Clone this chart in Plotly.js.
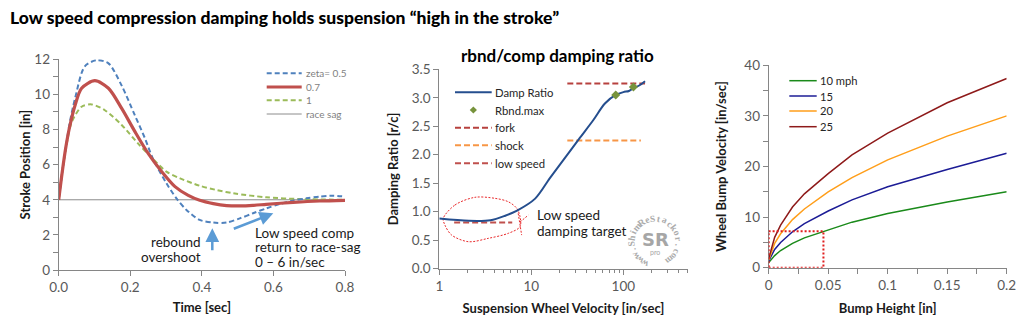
<!DOCTYPE html>
<html><head><meta charset="utf-8">
<script src="https://cdn.plot.ly/plotly-3.0.1.min.js"></script>
<style>html,body{margin:0;padding:0;background:#fff}#chart{width:1024px;height:328px}</style>
</head><body><div id="chart"></div>
<script>
// ---------- Panel 1 : stroke position vs time ----------
const tZeta05 = [0,0.01,0.02,0.03,0.046,0.073,0.106,0.139,0.176,0.213,0.241,0.262,0.301,0.329,0.357,0.394,0.432,0.469,0.506,0.543,0.58,0.618,0.655,0.692,0.729,0.767,0.8];
const posZeta05 = [4,5.6,7.0,8.3,9.8,11.6,11.95,11.77,10.5,8.8,7.5,6.4,4.94,4.08,3.42,2.85,2.70,2.70,2.94,3.23,3.51,3.76,3.95,4.08,4.18,4.23,4.18];
const tZeta07 = [0,0.01,0.02,0.03,0.046,0.064,0.101,0.139,0.176,0.213,0.25,0.288,0.325,0.362,0.394,0.432,0.469,0.506,0.543,0.58,0.655,0.729,0.8];
const posZeta07 = [4,5.6,7.0,8.1,9.4,10.35,10.78,10.35,9.2,7.88,6.64,5.6,4.75,4.25,3.97,3.78,3.67,3.65,3.68,3.74,3.85,3.93,3.97];
const tZeta1 = [0,0.01,0.02,0.036,0.064,0.092,0.129,0.176,0.222,0.26,0.301,0.339,0.394,0.44,0.488,0.58,0.674,0.8];
const posZeta1 = [4,5.6,6.9,8.4,9.3,9.43,9.1,8.26,7.2,6.4,5.6,5.22,4.8,4.56,4.37,4.14,4.04,4.0];
const tSag = [0,0.8];
const posSag = [4,4];
const p1Names = ['zeta= 0.5','0.7','1','race sag'];

// ---------- Panel 2 : rebound / compression damping ratio ----------
const velRatio = [1,2.1,3.6,5.2,7,11,15.9,24.3,33.8,47.2,63,82.6,100,115,128.5,150,172];
const dampRatio = [0.88,0.84,0.85,0.93,1.02,1.23,1.59,1.99,2.30,2.61,2.9,3.05,3.1,3.12,3.17,3.22,3.29];
const velRbndMax = [82.6,128.6];
const rbndMax = [3.05,3.19];
const velFork = [24.6,172];
const ratioFork = [3.25,3.25];
const velShock = [24.6,155];
const ratioShock = [2.25,2.25];
const velLowSpeed = [1.45,6.2];
const ratioLowSpeed = [0.81,0.81];
const loopVel = [1.105,1.48,2.44,4.03,5.62,6.94,7.54,7.54,5.62,3.41,2.07,1.36,1.15,1.105];
const loopRatio = [0.884,1.118,1.253,1.235,1.175,1.06,0.912,0.737,0.621,0.533,0.474,0.591,0.767,0.884];
const tickVel = [7.2,7.85];
const tickRatio = [0.97,0.59];
const tick2Vel = [7.54,9.27];
const tick2Ratio = [0.82,0.94];
const p2Names = ['Damp Ratio','Rbnd.max','fork','shock','low speed'];

// ---------- Panel 3 : wheel bump velocity vs bump height ----------
const bumpHeight = [0,0.001,0.005,0.01,0.02,0.03,0.05,0.07,0.1,0.15,0.2];
const vel10mph = [1.0,1.3,2.4,3.4,4.8,5.9,7.5,9.0,10.7,13.0,15.0];
const vel15mph = [1.2,1.8,3.6,5.0,7.1,8.7,11.2,13.4,16.0,19.4,22.6];
const vel20mph = [1.5,2.2,4.8,6.7,9.5,11.6,15.0,17.8,21.3,26.0,30.0];
const vel25mph = [1.8,2.7,6.0,8.4,12.0,14.6,18.6,22.3,26.6,32.6,37.4];
const p3Names = ['10 mph','15','20','25'];
const boxHeight = [0,0.046];
const boxVel = [0,7.2];

// ---------- helpers ----------
const W = 1024, H = 328;
const px = x => x / W;
const py = y => 1 - y / H;
const FONT = 'Lato, "Open Sans", sans-serif';
const AXC = '#868686';
const TXT = '#595959';

const sZ05 = {color:'#4F81BD', width:2, dash:'5px,3px'};
const sZ07 = {color:'#C0504D', width:3.2};
const sZ1 = {color:'#9BBB59', width:2, dash:'5px,3px'};
const sSag = {color:'#8C8C8C', width:1};
const sDamp = {color:'#254E8E', width:2};
const sFork = {color:'#B7413E', width:2, dash:'6px,3px'};
const sShock = {color:'#F79646', width:2, dash:'6px,3px'};
const sLow = {color:'#C0504D', width:2, dash:'6px,3px'};
const s10 = {color:'#1A8A1A', width:1.5};
const s15 = {color:'#1C1C96', width:1.5};
const s20 = {color:'#FF9E1A', width:1.5};
const s25 = {color:'#8E1A1A', width:1.5};
const loopStyle = {color:'#E8282A', width:1, dash:'2px,1.5px'};

function ln(x, y, xa, ya, line, smooth) {
  const l = Object.assign({}, line);
  if (smooth) { l.shape = 'spline'; l.smoothing = smooth; }
  return {x, y, xaxis:xa, yaxis:ya, type:'scatter', mode:'lines', line:l, hoverinfo:'skip', showlegend:false};
}

const traces = [
  ln(tSag, posSag, 'x', 'y', sSag),
  ln(tZeta1, posZeta1, 'x', 'y', sZ1, 0.8),
  ln(tZeta05, posZeta05, 'x', 'y', sZ05, 0.8),
  ln(tZeta07, posZeta07, 'x', 'y', sZ07, 0.8),
  ln(loopVel, loopRatio, 'x2', 'y2', loopStyle, 0.9),
  ln(tickVel, tickRatio, 'x2', 'y2', loopStyle),
  ln(tick2Vel, tick2Ratio, 'x2', 'y2', loopStyle),
  ln(velLowSpeed, ratioLowSpeed, 'x2', 'y2', sLow),
  ln(velShock, ratioShock, 'x2', 'y2', sShock),
  ln(velFork, ratioFork, 'x2', 'y2', sFork),
  ln(velRatio, dampRatio, 'x2', 'y2', sDamp, 0.9),
  {x: velRbndMax, y: rbndMax, xaxis:'x2', yaxis:'y2', type:'scatter', mode:'markers',
   marker:{symbol:'diamond', size:7, color:'#77933C'}, hoverinfo:'skip', showlegend:false},
  ln(bumpHeight, vel10mph, 'x3', 'y3', s10),
  ln(bumpHeight, vel15mph, 'x3', 'y3', s15),
  ln(bumpHeight, vel20mph, 'x3', 'y3', s20),
  ln(bumpHeight, vel25mph, 'x3', 'y3', s25)
];

const shapes = [];
const annotations = [];

function legend(items, names, rows, x0, x1, tx, size, color) {
  items.forEach((st, i) => {
    const y = rows[i];
    if (st.marker) {
      const c = (x0 + x1) / 2, r = 3.6;
      shapes.push({type:'path', xref:'paper', yref:'paper',
        path:`M ${px(c)},${py(y - r)} L ${px(c + r)},${py(y)} L ${px(c)},${py(y + r)} L ${px(c - r)},${py(y)} Z`,
        fillcolor:st.marker, line:{width:0}});
    } else {
      shapes.push({type:'line', xref:'paper', yref:'paper', x0:px(x0), x1:px(x1), y0:py(y), y1:py(y),
        line:{color:st.color, width:st.width, dash:st.dash || 'solid'}});
    }
    annotations.push({xref:'paper', yref:'paper', x:px(tx), y:py(y), xanchor:'left', yanchor:'middle',
      text:names[i], showarrow:false, font:{family:FONT, size:size, color:color}});
  });
}
legend([sZ05, sZ07, sZ1, sSag], p1Names, [73.3, 87, 100.3, 114], 266.7, 301.7, 303.5, 10, '#7F7F7F');
legend([sDamp, {marker:'#77933C'}, sFork, sShock, sLow], p2Names, [92.3, 110, 127.7, 145.3, 163.3], 455, 491.7, 492.5, 11.3, '#262626');
legend([s10, s15, s20, s25], p3Names, [80.7, 96, 111, 126.7], 789.3, 816.7, 817.5, 11.2, '#262626');

// dotted box in panel 3
shapes.push({type:'rect', xref:'x3', yref:'y3', x0:boxHeight[0], x1:boxHeight[1], y0:boxVel[0], y1:boxVel[1],
  line:{color:'#E01E1E', width:2, dash:'2px,2px'}});

function txt(x, y, s, opts) {
  annotations.push(Object.assign({xref:'paper', yref:'paper', x:px(x), y:py(y), text:s, showarrow:false,
    xanchor:'left', yanchor:'middle', font:{family:FONT, size:13.5, color:'#1a1a1a'}}, opts || {}));
}
// panel 1 notes
txt(203, 241.7, 'rebound', {xanchor:'right'});
txt(203, 257, 'overshoot', {xanchor:'right'});
txt(252.5, 232.5, 'Low speed comp');
txt(252.5, 247, 'return to race-sag');
txt(252.5, 261.5, '0 – 6 in/sec');
// arrows
annotations.push({xref:'paper', yref:'paper', x:px(212.3), y:py(228.3), ax:0, ay:23.5, text:'', showarrow:true,
  arrowhead:2, arrowsize:1.1, arrowwidth:2.5, arrowcolor:'#5B9BD5'});
annotations.push({xref:'paper', yref:'paper', x:px(273.3), y:py(213.3), ax:-41, ay:16, text:'', showarrow:true,
  arrowhead:2, arrowsize:1.1, arrowwidth:2.5, arrowcolor:'#5B9BD5'});
// panel 2 notes
txt(535, 215, 'Low speed');
txt(535, 230.5, 'damping target');
txt(557, 55, 'rbnd/comp damping ratio', {xanchor:'center', font:{family:FONT, size:17, color:'#000', weight:'bold'}});

// watermark
const wm = 'www.ShimReStackor.com';
const cx = 655, cy = 242, rad = 23.5;
for (let i = 0; i < wm.length; i++) {
  const th = 206 + i * 14.8;
  const rr = th * Math.PI / 180;
  let ang = th % 360; if (ang > 180) ang -= 360;
  annotations.push({xref:'paper', yref:'paper', x:px(cx + rad * Math.sin(rr)), y:py(cy - rad * Math.cos(rr)),
    text:wm[i], showarrow:false, textangle:ang, xanchor:'center', yanchor:'middle',
    font:{family:'"Liberation Serif", serif', size:9.5, color:'#ABABAB', weight:'bold'}});
}
txt(655, 239, 'SR', {xanchor:'center', font:{family:'"DejaVu Sans", sans-serif', size:18, color:'#A6A6A6', weight:'bold'}});
txt(655, 251.5, 'pro', {xanchor:'center', font:{family:FONT, size:7, color:'#A6A6A6'}});

const tickfont = {family:FONT, size:13.5, color:TXT};
const titlefont = {family:FONT, size:13, color:'#1a1a1a', weight:'bold'};
function axis(extra) {
  return Object.assign({showline:true, linecolor:AXC, linewidth:1, ticks:'outside', ticklen:5, tickcolor:AXC,
    showgrid:false, zeroline:false, tickfont:tickfont, fixedrange:true}, extra);
}

const layout = {
  width:W, height:H, margin:{l:0, r:0, t:0, b:0}, paper_bgcolor:'#fff', plot_bgcolor:'rgba(0,0,0,0)',
  showlegend:false,
  title:{text:'Low speed compression damping holds suspension “high in the stroke”', xref:'paper', yref:'paper',
    x:px(10), xanchor:'left', y:py(18), yanchor:'middle', font:{family:FONT, size:17.5, color:'#000', weight:900}},
  xaxis: axis({domain:[px(58.7), px(345)], anchor:'y', range:[0,0.8], dtick:0.2, tickformat:'.1f',
    title:{text:'Time [sec]', font:titlefont, standoff:8}}),
  yaxis: axis({domain:[py(270), py(59.3)], anchor:'x', range:[0,12], dtick:2,
    minor:{dtick:1, ticks:'outside', ticklen:5, tickcolor:AXC},
    title:{text:'Stroke Position [in]', font:titlefont, standoff:0}}),
  xaxis2: axis({domain:[px(439.3), px(687.7)], anchor:'y2', type:'log', range:[0, Math.log10(500)], dtick:1,
    minor:{dtick:'D1', ticks:'outside', ticklen:3, tickcolor:AXC},
    title:{text:'Suspension Wheel Velocity [in/sec]', font:titlefont, standoff:10}}),
  yaxis2: axis({domain:[py(268.7), py(69.3)], anchor:'x2', range:[0,3.5], dtick:0.5, tickformat:'.1f',
    title:{text:'Damping Ratio [r/c]', font:titlefont, standoff:10}}),
  xaxis3: axis({domain:[px(768.7), px(1006.7)], anchor:'y3', range:[0,0.2], dtick:0.05,
    minor:{dtick:0.025, ticks:'outside', ticklen:5, tickcolor:AXC},
    title:{text:'Bump Height [in]', font:titlefont, standoff:11}}),
  yaxis3: axis({domain:[py(267.7), py(65.3)], anchor:'x3', range:[0,40], dtick:10,
    minor:{dtick:5, ticks:'outside', ticklen:5, tickcolor:AXC},
    title:{text:'Wheel Bump Velocity [in/sec]', font:titlefont, standoff:14}}),
  shapes, annotations
};

Plotly.newPlot('chart', traces, layout, {displayModeBar:false, staticPlot:true});
</script></body></html>
